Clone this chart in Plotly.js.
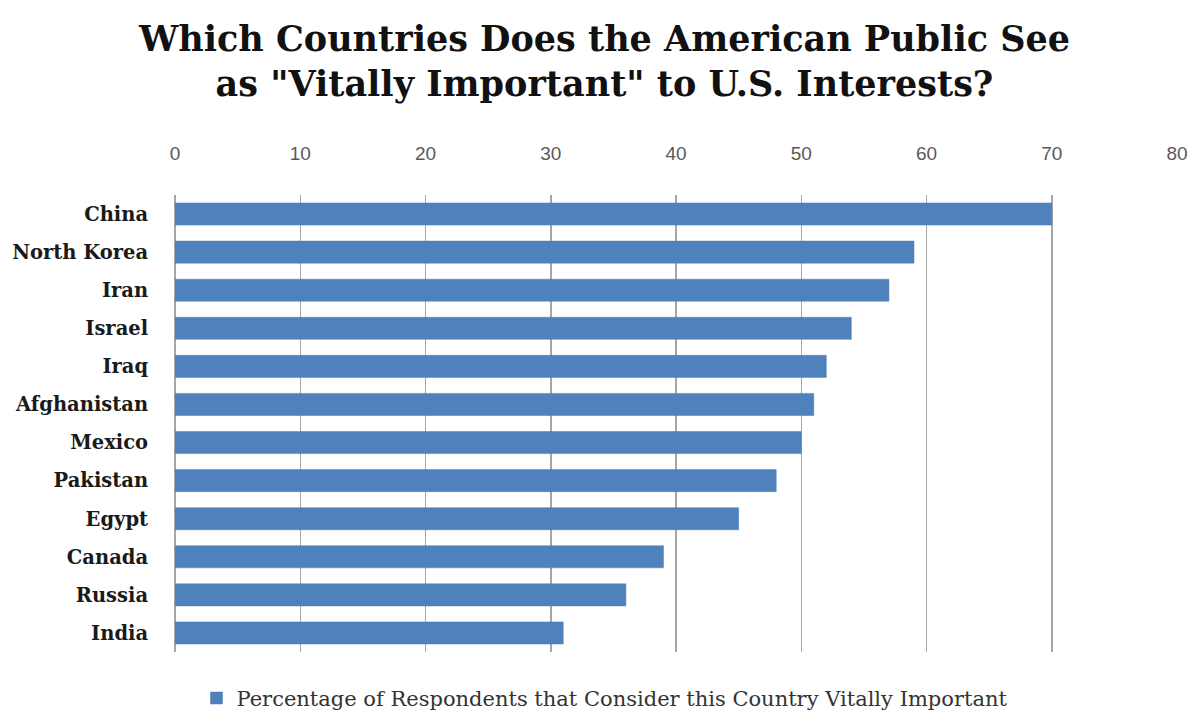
<!DOCTYPE html>
<html>
<head>
<meta charset="utf-8">
<script src="https://cdn.plot.ly/plotly-3.0.1.min.js"></script>
<style>html,body{margin:0;padding:0;background:#fff;}#chart{width:1197px;height:717px;}</style>
</head>
<body>
<div id="chart"></div>
<script>
const countries = ["China","North Korea","Iran","Israel","Iraq","Afghanistan","Mexico","Pakistan","Egypt","Canada","Russia","India"];
const percentages = [70,59,57,54,52,51,50,48,45,39,36,31];
const xTicks = [0,10,20,30,40,50,60,70,80];
const seriesName = "Percentage of Respondents that Consider this Country Vitally Important";
const titleText = 'Which Countries Does the American Public See<br>as "Vitally Important" to U.S. Interests?';

const trace = {
  type: 'bar',
  orientation: 'h',
  x: percentages,
  y: countries,
  name: seriesName,
  marker: {color: '#4F81BD', line: {color: '#4A7EBB', width: 0.5}},
  showlegend: true,
  hoverinfo: 'x+y'
};

const layout = {
  width: 1197, height: 717,
  paper_bgcolor: '#fff', plot_bgcolor: '#fff',
  margin: {l: 175, r: 20, t: 195, b: 65},
  bargap: 0.42,
  title: {
    text: titleText,
    font: {family: '"DejaVu Serif", serif', size: 35, color: '#111', weight: 'bold'},
    x: 0.505, xanchor: 'center', xref: 'container',
    y: 0.929, yanchor: 'middle', yref: 'container'
  },
  xaxis: {
    side: 'top', range: [0, 80], tickvals: xTicks, ticktext: xTicks.map(String),
    showgrid: true, gridcolor: '#a6a6a6', gridwidth: 1.5,
    zeroline: true, zerolinecolor: '#a6a6a6', zerolinewidth: 1.5,
    showline: false,
    ticks: 'outside', ticklen: 26, tickcolor: 'rgba(0,0,0,0)',
    tickfont: {family: '"Liberation Sans Narrow", "Liberation Sans", sans-serif', size: 19, color: '#595959'},
    fixedrange: true
  },
  yaxis: {
    autorange: 'reversed', type: 'category',
    showgrid: false, showline: false, zeroline: false,
    ticks: 'outside', ticklen: 22, tickcolor: 'rgba(0,0,0,0)',
    tickfont: {family: '"DejaVu Serif", serif', size: 19.5, color: '#1a1a1a', weight: 'bold'},
    fixedrange: true
  },
  legend: {
    orientation: 'h', xref: 'container', yref: 'container',
    x: 0.505, xanchor: 'center', y: 0.026, yanchor: 'middle',
    font: {family: '"DejaVu Serif", serif', size: 21, color: '#333'},
    itemwidth: 30
  },
  showlegend: true
};

Plotly.newPlot('chart', [trace], layout, {displayModeBar: false, staticPlot: true});
</script>
</body>
</html>
